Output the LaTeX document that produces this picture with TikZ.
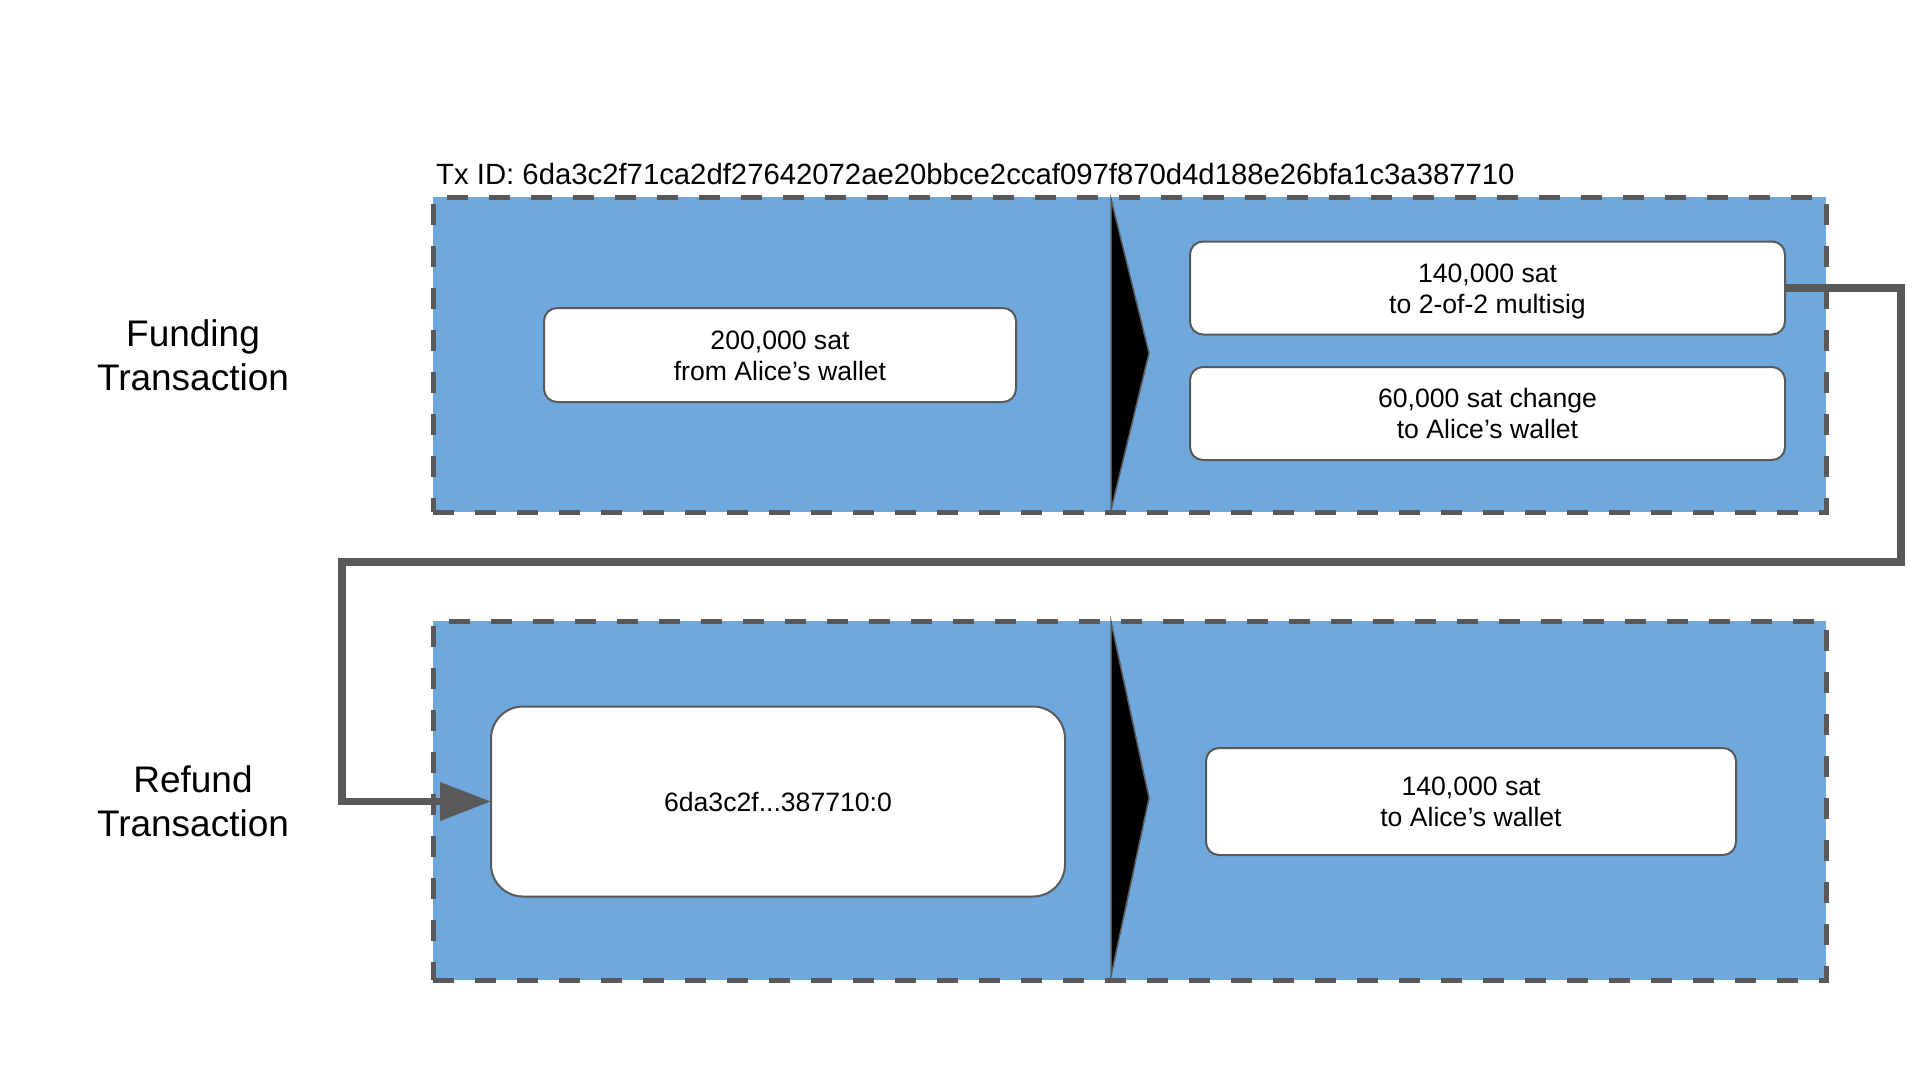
\documentclass[tikz,border=0pt]{standalone}
\usepackage{fontspec}
\setmainfont{Liberation Sans}
\usetikzlibrary{arrows.meta}
\definecolor{txblue}{HTML}{6FA8DC}
\definecolor{edgegray}{HTML}{595959}
\newcommand\bxs{\rule[-6pt]{0pt}{31pt}}
\newcommand\lbs{\rule[-9pt]{0pt}{44pt}}
\begin{document}
\begin{tikzpicture}[x=1pt,y=-1pt,
  txbox/.style={draw=edgegray, fill=txblue, line width=5pt,
    dash pattern=on 21pt off 21pt, rectangle, inner sep=0pt, outer sep=0pt},
  outbox/.style={draw=edgegray, fill=white, line width=2pt, rounded corners=13pt,
    rectangle, inner sep=0pt, outer sep=0pt, align=center,
    font=\fontsize{26.6}{31}\selectfont},
  bigbox/.style={outbox, rounded corners=32pt},
  divider/.style={fill=black, draw=edgegray, line width=1.5pt, line join=miter},
  label/.style={align=center, inner sep=0pt, font=\fontsize{37}{44}\selectfont},
  conn/.style={draw=edgegray, line width=7.5pt, line join=miter}]
\useasboundingbox (0,0) rectangle (1920,1080);
\fill[white] (0,0) rectangle (1920,1080);

% transaction frames
\node[txbox, minimum width=1393pt, minimum height=315pt] (fund) at (1129.5,354.5) {};
\node[txbox, minimum width=1393pt, minimum height=359pt] (refund) at (1129.5,800.5) {};

% dividers
\draw[divider] (1111,199) -- (1149,353) -- (1111,510) -- cycle;
\draw[divider] (1111,622) -- (1149,798) -- (1111,976) -- cycle;

% Tx ID
\node[anchor=base west, inner sep=0pt, font=\fontsize{29.3}{35}\selectfont] (txid) at (436,184)
  {Tx ID: 6da3c2f71ca2df27642072ae20bbce2ccaf097f870d4d188e26bfa1c3a387710};

% labels
\node[label] (flabel) at (193,355) {\lbs Funding\\\lbs Transaction};
\node[label] (rlabel) at (193,801) {\lbs Refund\\\lbs Transaction};

% inputs / outputs
\node[outbox, minimum width=472pt, minimum height=94pt] (in1) at (780,355) {\bxs 200,000 sat\\\bxs from Alice’s wallet};
\node[outbox, minimum width=595pt, minimum height=93pt] (out1) at (1487.5,288) {\bxs 140,000 sat\\\bxs to 2-of-2 multisig};
\node[outbox, minimum width=595pt, minimum height=93pt] (out2) at (1487.5,413.5) {\bxs 60,000 sat change\\\bxs to Alice’s wallet};
\node[bigbox, minimum width=574pt, minimum height=190pt] (in2) at (778,801.5) {\bxs 6da3c2f...387710:0};
\node[outbox, minimum width=530pt, minimum height=107pt] (out3) at (1471,801.5) {\bxs 140,000 sat\\\bxs to Alice’s wallet};

% connector
\coordinate (cr) at (1901,562);
\coordinate (cl) at (342,562);
\draw[conn, -{Triangle[length=51pt,width=37pt]}] (out1.east) -| (cr) -- (cl) |- (in2.west);
\end{tikzpicture}
\end{document}
